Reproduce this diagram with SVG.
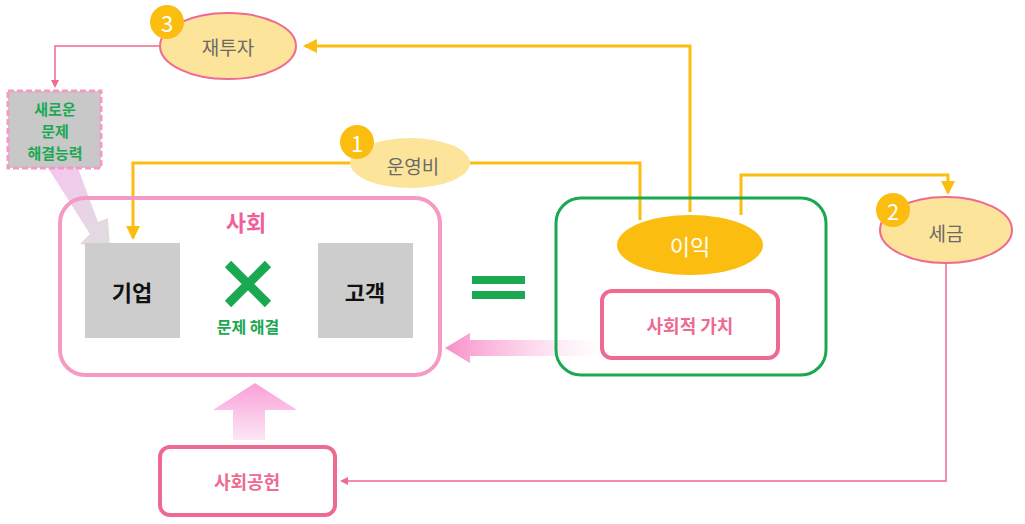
<svg xmlns="http://www.w3.org/2000/svg" width="1025" height="524" viewBox="0 0 1025 524">
<style>
text{font-family:"Noto Sans CJK KR","Noto Sans",sans-serif;text-anchor:middle;dominant-baseline:central}
.oval{fill:#fde49b;stroke:#ee6a90;stroke-width:2}
.badge{fill:#fbbd0f}
.bt{fill:#fff;font-size:22px}
.lbl{fill:#6a6a6a;font-size:19px}
.y{fill:none;stroke:#fbbd0f;stroke-width:3}
.p{fill:none;stroke:#ee6a90;stroke-width:1.5}
.gray{fill:#cdcdcd}
.pk{fill:#fff;stroke:#ee6a90;stroke-width:4}
.gt{fill:#1aa851;font-size:15px;font-weight:bold}
</style>
<defs>
<marker id="ap" markerWidth="8" markerHeight="8" refX="6" refY="4" orient="auto" markerUnits="userSpaceOnUse" viewBox="0 0 8 8"><path d="M0,0L8,4L0,8z" fill="#ee6a90"/></marker>
<marker id="ay2" markerWidth="14" markerHeight="14" refX="12" refY="7" orient="auto" markerUnits="userSpaceOnUse"><path d="M0,0L14,7L0,14z" fill="#fbbd0f"/></marker>
<linearGradient id="gh" x1="0" x2="1" y1="0" y2="0"><stop offset="0" stop-color="#f88fc8"/><stop offset="1" stop-color="#fff" stop-opacity="0.6"/></linearGradient>
<linearGradient id="gv" x1="0" x2="0" y1="0" y2="1"><stop offset="0" stop-color="#f9a0d8"/><stop offset="1" stop-color="#fde6f4"/></linearGradient>
<linearGradient id="gd" x1="0" x2="1" y1="0" y2="1"><stop offset="0" stop-color="#f6c6f0"/><stop offset="1" stop-color="#dedede"/></linearGradient>
</defs>

<g id="connectors">
<path class="y" d="M690,212V46H305" marker-end="url(#ay2)"/>
<path class="p" d="M160,46H55V86" marker-end="url(#ap)"/>
<path class="y" d="M350,163H133V238" marker-end="url(#ay2)"/>
<path class="y" d="M470,163H640V220"/>
<path class="y" d="M741,215V175H948V193" marker-end="url(#ay2)"/>
<path class="p" d="M946,263V481H342" marker-end="url(#ap)"/>
<path d="M48,168L78,168L98,222L108,218L110,248L80,244L90,234Z" fill="url(#gd)"/>
<path d="M600,340H470V333L445,348L470,363V356H600Z" fill="url(#gh)"/>
<path d="M233,440V410H213L255,383L297,410H265V440Z" fill="url(#gv)"/>
</g>

<g id="society">
<rect x="60" y="198" width="380" height="177" rx="25" fill="none" stroke="#f59ac4" stroke-width="4"/>
<text x="246" y="221" fill="#f0609a" font-size="22" font-weight="bold">사회</text>
</g>
<g id="company"><rect class="gray" x="85" y="243" width="95" height="95"/><text x="132" y="291" font-size="22" font-weight="bold" fill="#111">기업</text></g>
<g id="customer"><rect class="gray" x="318" y="243" width="95" height="95"/><text x="365" y="291" font-size="22" font-weight="bold" fill="#111">고객</text></g>
<g id="solve">
<path d="M228,264L268,304M268,264L228,304" stroke="#1aa851" stroke-width="9"/>
<text x="248" y="326" font-size="16" fill="#1aa851" font-weight="bold">문제 해결</text>
</g>
<g id="equals"><rect x="472" y="276" width="53" height="8" fill="#1aa851"/><rect x="472" y="291" width="53" height="8" fill="#1aa851"/></g>

<g id="profitbox">
<rect x="556" y="198" width="270" height="177" rx="25" fill="none" stroke="#1aa851" stroke-width="3"/>
</g>
<g id="profit"><ellipse cx="690" cy="245" rx="73" ry="30" fill="#fbbd0f"/><text x="690" y="245" fill="#fff" font-size="22">이익</text></g>
<g id="socialvalue"><rect class="pk" x="602" y="291" width="176" height="67" rx="10"/><text x="690" y="325" fill="#ee6a90" font-size="18" font-weight="600">사회적 가치</text></g>

<g id="reinvest"><ellipse class="oval" cx="228" cy="46" rx="68" ry="33"/><text class="lbl" x="228" y="46">재투자</text><circle class="badge" cx="167" cy="22" r="17"/><text class="bt" x="167" y="22">3</text></g>
<g id="newability"><rect x="8" y="91" width="93" height="77" fill="#c8c8c8" stroke="#f59ac4" stroke-width="3" stroke-dasharray="6,3"/>
<text class="gt" x="55" y="108">새로운</text>
<text class="gt" x="55" y="130">문제</text>
<text class="gt" x="55" y="152">해결능력</text></g>
<g id="opex"><ellipse cx="410" cy="163" rx="60" ry="25" fill="#fde49b"/><text class="lbl" x="413" y="165">운영비</text><circle class="badge" cx="357" cy="142" r="17"/><text class="bt" x="357" y="142">1</text></g>
<g id="tax"><ellipse class="oval" cx="946" cy="230" rx="66" ry="33"/><text class="lbl" x="946" y="232">세금</text><circle class="badge" cx="893" cy="210" r="17"/><text class="bt" x="893" y="210">2</text></g>
<g id="contribution"><rect class="pk" x="160" y="447" width="175" height="68" rx="10"/><text x="247" y="481" fill="#ee6a90" font-size="18" font-weight="600">사회공헌</text></g>
</svg>
